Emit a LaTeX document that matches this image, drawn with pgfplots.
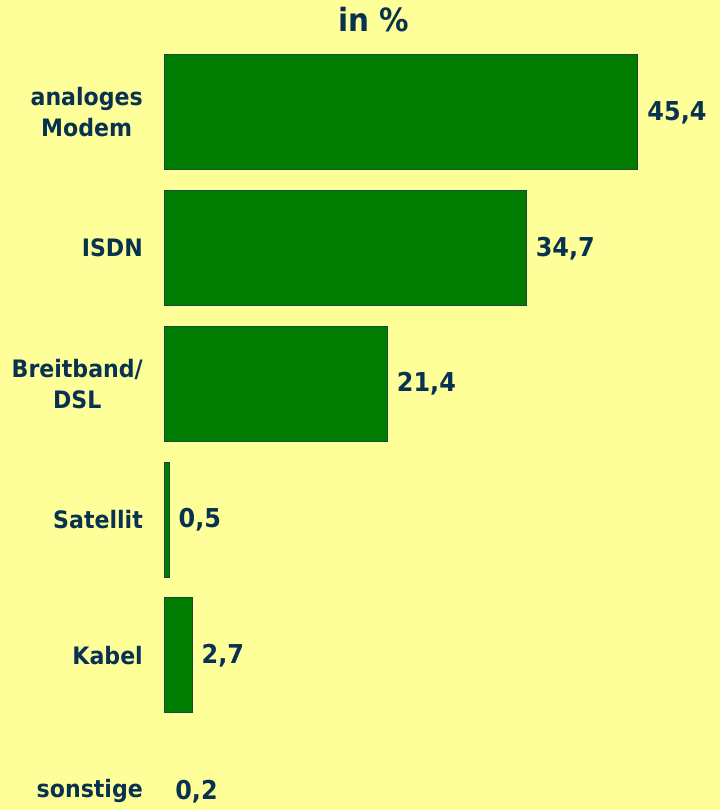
\documentclass[border=0pt]{standalone}
\usepackage{pgfplots}
\pgfplotsset{compat=1.18}
\usepackage{fontspec}
\setmainfont{DejaVu Sans}[FakeStretch=0.92]
\definecolor{bg}{RGB}{255,255,153}
\definecolor{barg}{RGB}{0,124,0}
\definecolor{edge}{RGB}{20,75,60}
\definecolor{txt}{RGB}{8,50,80}
\begin{document}
\begin{tikzpicture}
\useasboundingbox (0pt,0pt) rectangle (720pt,810pt);
\fill[bg] (0pt,0pt) rectangle (720pt,810pt);
\node[text=txt, font=\fontsize{32}{36}\selectfont\bfseries] at (374pt,790pt) {in \%};
\begin{axis}[
  at={(164pt,765.4pt)}, anchor=north west,
  scale only axis, width=556pt, height=814.5pt,
  xmin=0, xmax=53.26, ymin=-0.5, ymax=5.5, y dir=reverse,
  xbar, bar width=115pt, bar shift=0pt,
  axis line style={draw=none}, major tick length=0pt,
  xtick=\empty, ytick={0,1,2,3,4,5},
  yticklabels={{analoges\\Modem},ISDN,{Breitband/\\DSL},Satellit,Kabel,sonstige},
  yticklabel style={align=center, inner sep=0pt, xshift=-21pt, text=txt,
    font=\fontsize{24}{31}\selectfont\bfseries},
  point meta=x,
  nodes near coords,
  nodes near coords style={anchor=west, inner sep=0pt, xshift=9pt, text=txt,
    font=\fontsize{26}{30}\selectfont\bfseries},
  /pgf/number format/use comma,
  /pgf/number format/fixed,
  /pgf/number format/fixed zerofill,
  /pgf/number format/precision=1,
  /pgf/number format/assume math mode=true,
  clip=false,
]
\addplot[fill=barg, draw=edge, line width=1pt] coordinates {
  (45.4,0) (34.7,1) (21.4,2) (0.5,3) (2.7,4)
};
\addplot[draw=none, fill=none] coordinates {(0.2,5)};
\end{axis}
\end{tikzpicture}
\end{document}
